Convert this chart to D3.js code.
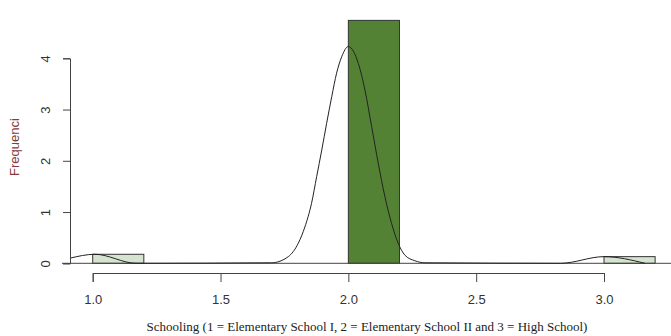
<!DOCTYPE html>
<html>
<head>
<meta charset="utf-8">
<script src="https://cdn.jsdelivr.net/npm/d3@7"></script>
<style>
  body { margin: 0; background: #fff; }
  svg { display: block; }
</style>
</head>
<body>
<div id="chart"></div>
<script>
"use strict";

// histogram bins (density scale)
const binLo = [1.0, 2.0, 3.0];
const binHi = [1.2, 2.2, 3.2];
const binHeights = [0.176, 4.74, 0.13];
const binColors = ["#d7e3d1", "#548235", "#d7e3d1"];

// density line, points
const densityX = [0.911, 1.009, 1.17, 1.70, 1.765, 1.804, 1.830, 1.856, 1.876, 1.896, 1.915, 1.935, 1.954, 1.974, 2.0,
                  2.039, 2.065, 2.091, 2.117, 2.143, 2.169, 2.195, 2.221, 2.26, 2.30, 2.83, 3.0, 3.16];
const densityY = [0.10, 0.176, 0.0, 0.01, 0.13, 0.39, 0.71, 1.17, 1.69, 2.21, 2.73, 3.25, 3.71, 4.03, 4.23,
                  3.90, 3.38, 2.67, 1.95, 1.30, 0.78, 0.39, 0.16, 0.05, 0.01, 0.0, 0.13, 0.0];

const xTicks = [1.0, 1.5, 2.0, 2.5, 3.0];
const yTicks = [0, 1, 2, 3, 4];

const width = 671, height = 336;

const svg = d3.select("#chart").append("svg")
    .attr("width", width)
    .attr("height", height);

const x = d3.scaleLinear().domain([1, 3]).range([92.7, 604]);
const y = d3.scaleLinear().domain([0, 4]).range([263.3, 58.3]);

// bars
svg.append("g")
  .selectAll("rect")
  .data(binLo)
  .join("rect")
    .attr("x", (d, i) => x(d))
    .attr("y", (d, i) => y(binHeights[i]))
    .attr("width", (d, i) => x(binHi[i]) - x(d))
    .attr("height", (d, i) => y(0) - y(binHeights[i]))
    .attr("fill", (d, i) => binColors[i])
    .attr("stroke", "#333")
    .attr("stroke-width", 1);

// baseline across the plot
svg.append("line")
    .attr("x1", 62).attr("x2", width)
    .attr("y1", y(0)).attr("y2", y(0))
    .attr("stroke", "#444")
    .attr("stroke-width", 1);

// density curve
const pts = densityX.map((d, i) => [d, densityY[i]]);
const line = d3.line()
    .x(d => x(d[0]))
    .y(d => y(d[1]))
    .curve(d3.curveMonotoneX);

svg.append("path")
    .datum(pts)
    .attr("d", line)
    .attr("fill", "none")
    .attr("stroke", "#222")
    .attr("stroke-width", 1);

// x axis
const xAxis = svg.append("g")
    .attr("transform", "translate(0,273)")
    .call(d3.axisBottom(x).tickValues(xTicks).tickFormat(d3.format(".1f"))
      .tickSizeOuter(0).tickSize(9).tickPadding(13));
xAxis.selectAll("path, line").attr("stroke", "#444");
xAxis.selectAll("text")
    .attr("fill", "#333")
    .style("font-family", "'Liberation Sans', Arial, sans-serif")
    .style("font-size", "13px");

// y axis
const yAxis = svg.append("g")
    .attr("transform", "translate(70,0)")
    .call(d3.axisLeft(y).tickValues(yTicks).tickFormat(d3.format("d"))
      .tickSizeOuter(0).tickSize(7));
yAxis.selectAll("path, line").attr("stroke", "#444");
yAxis.selectAll("text")
    .attr("x", null)
    .attr("dy", "0.35em")
    .attr("text-anchor", "middle")
    .attr("transform", "translate(-25,0) rotate(-90)")
    .attr("fill", "#333")
    .style("font-family", "'Liberation Sans', Arial, sans-serif")
    .style("font-size", "13px");

// titles
svg.append("text")
    .attr("transform", "translate(19,147) rotate(-90)")
    .attr("text-anchor", "middle")
    .attr("fill", "#843c3c")
    .style("font-family", "'Liberation Sans', Arial, sans-serif")
    .style("font-size", "13px")
    .text("Frequenci");

svg.append("text")
    .attr("x", 367)
    .attr("y", 331)
    .attr("text-anchor", "middle")
    .attr("fill", "#222")
    .style("font-family", "'Liberation Serif', 'Times New Roman', serif")
    .style("font-size", "13px")
    .text("Schooling (1 = Elementary School I, 2 = Elementary School II and 3 = High School)");
</script>
</body>
</html>
